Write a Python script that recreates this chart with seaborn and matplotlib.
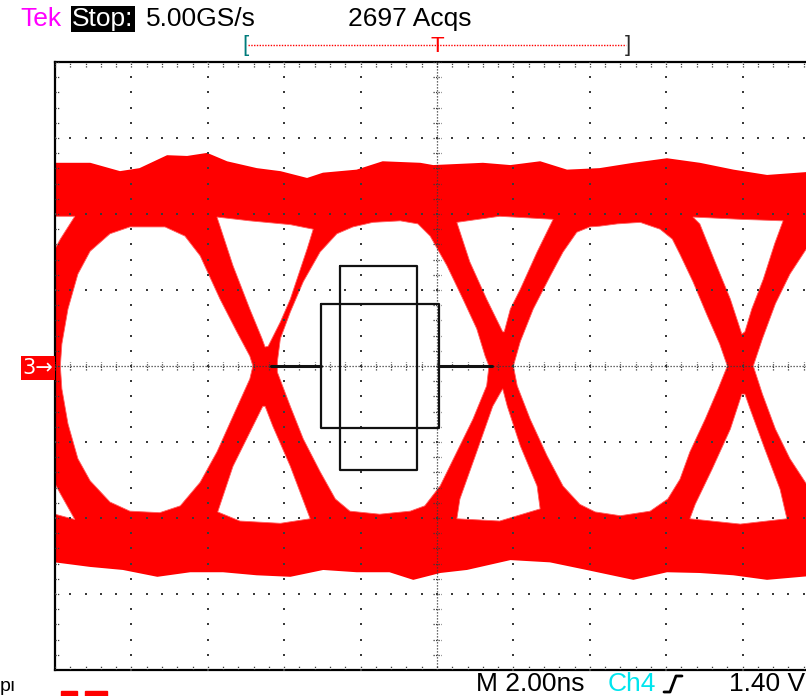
import numpy as np
import pandas as pd
import matplotlib
matplotlib.use("Agg")
import matplotlib.pyplot as plt
import seaborn as sns
from matplotlib.transforms import Affine2D
from matplotlib.lines import Line2D
from matplotlib.patches import Rectangle

sns.set_theme(style="white")
plt.rcParams['font.family'] = ['Liberation Sans', 'DejaVu Sans']

# ---------------- data (screen divisions; x: 2 ns/div, y: div) ----------------
top_env_x = [0, 0.46, 0.85, 1.11, 1.47, 1.73, 1.99, 2.25, 2.64, 2.95, 3.30, 3.51, 3.95, 4.29,
             4.78, 4.95, 5.60, 5.96, 6.35, 6.70, 7.13, 7.57, 8.01, 8.44, 8.88, 9.32, 10.0]
top_env_y = [2.66, 2.66, 2.55, 2.59, 2.76, 2.75, 2.79, 2.68, 2.59, 2.55, 2.46, 2.53, 2.57, 2.68,
             2.66, 2.63, 2.66, 2.63, 2.68, 2.57, 2.59, 2.66, 2.72, 2.66, 2.57, 2.50, 2.55]
bot_env_x = [0, 0.46, 0.89, 1.34, 1.77, 2.20, 2.64, 3.08, 3.51, 3.95, 4.38, 4.69, 5.04, 5.39,
             5.96, 6.48, 6.96, 7.57, 8.01, 8.44, 8.88, 9.32, 10.0]
bot_env_y = [-2.57, -2.63, -2.67, -2.76, -2.70, -2.70, -2.74, -2.76, -2.67, -2.70, -2.70, -2.80,
             -2.71, -2.67, -2.54, -2.57, -2.67, -2.80, -2.70, -2.71, -2.74, -2.80, -2.74]

# eye openings (white)
left_eye_x = [2.59, 2.55, 2.38, 2.16, 1.90, 1.70, 1.44, 0.98, 0.72, 0.46, 0.30, 0.17, 0.09, 0.07,
              0.09, 0.17, 0.30, 0.46, 0.72, 0.98, 1.37, 1.64, 1.90, 2.12, 2.33, 2.55]
left_eye_y = [0, 0.13, 0.45, 0.88, 1.45, 1.71, 1.83, 1.83, 1.74, 1.51, 1.21, 0.75, 0.29, 0,
              -0.30, -0.76, -1.22, -1.51, -1.79, -1.91, -1.93, -1.84, -1.53, -1.13, -0.66, -0.17]
center_eye_x = [3.90, 3.69, 3.47, 3.25, 3.08, 2.95, 2.91, 2.91, 3.08, 3.25, 3.47, 3.67, 3.86, 4.25,
                4.65, 4.84, 5.04, 5.26, 5.47, 5.65, 5.68, 5.63, 5.52, 5.34, 5.13, 4.91, 4.75, 4.52, 4.16]
center_eye_y = [1.83, 1.74, 1.50, 1.11, 0.71, 0.36, 0.05, -0.08, -0.53, -0.96, -1.39, -1.75, -1.91, -1.95,
                -1.91, -1.84, -1.58, -1.13, -0.70, -0.26, 0, 0.13, 0.49, 0.88, 1.32, 1.71, 1.87, 1.91, 1.89]
right_eye_x = [7.00, 6.83, 6.65, 6.48, 6.26, 6.09, 6.00, 6.05, 6.22, 6.44, 6.65, 6.87, 7.07, 7.40,
               7.79, 8.02, 8.18, 8.31, 8.51, 8.68, 8.80, 8.70, 8.53, 8.35, 8.18, 8.08, 7.92, 7.66, 7.36, 7.13]
right_eye_y = [1.83, 1.76, 1.50, 1.18, 0.75, 0.32, 0, -0.26, -0.70, -1.18, -1.58, -1.82, -1.92, -1.97,
               -1.91, -1.75, -1.49, -1.13, -0.70, -0.30, 0, 0.29, 0.68, 1.11, 1.47, 1.67, 1.80, 1.89, 1.87, 1.84]
far_eye_x = [9.14, 9.26, 9.43, 9.62, 9.88, 10.2, 10.2, 9.88, 9.62, 9.43, 9.26]
far_eye_y = [0, 0.36, 0.82, 1.21, 1.61, 1.67, -1.68, -1.62, -1.22, -0.83, -0.37]

# triangles above / below each crossing (white)
c1_up_x = [2.75, 2.71, 2.55, 2.33, 2.16, 2.12, 2.55, 3.08, 3.38, 3.30, 3.08, 2.95, 2.79]
c1_up_y = [0.25, 0.36, 0.75, 1.32, 1.84, 1.96, 1.91, 1.86, 1.80, 1.54, 0.88, 0.58, 0.26]
c1_dn_x = [2.72, 2.33, 2.13, 2.42, 2.95, 3.34, 3.08, 2.85, 2.75]
c1_dn_y = [-0.53, -1.32, -1.92, -2.04, -2.07, -2.01, -1.32, -0.79, -0.53]
c2_up_x = [5.86, 5.65, 5.43, 5.26, 5.82, 6.52, 6.31, 6.09, 5.96, 5.88]
c2_up_y = [0.45, 0.88, 1.37, 1.89, 1.97, 1.93, 1.50, 1.01, 0.75, 0.45]
c2_dn_x = [5.86, 5.73, 5.52, 5.30, 5.26, 5.82, 6.35, 6.31, 6.09, 5.92]
c2_dn_y = [-0.30, -0.53, -1.13, -1.75, -2.01, -2.04, -1.88, -1.58, -1.05, -0.53]
c3_up_x = [8.99, 8.84, 8.64, 8.44, 8.35, 8.97, 9.53, 9.42, 9.27, 9.12, 9.03]
c3_up_y = [0.42, 0.88, 1.37, 1.87, 1.96, 1.93, 1.91, 1.61, 1.14, 0.75, 0.45]
c3_dn_x = [8.99, 8.84, 8.60, 8.38, 8.31, 8.97, 9.58, 9.49, 9.29, 9.10, 9.03]
c3_dn_y = [-0.37, -0.83, -1.36, -1.82, -2.01, -2.08, -2.01, -1.62, -1.09, -0.57, -0.37]
c0_up_x = [0.0, 0.26, 0.07, 0.0]
c0_up_y = [1.97, 1.97, 1.67, 1.54]
c0_dn_x = [0.0, 0.26, 0.07, 0.0]
c0_dn_y = [-1.95, -2.02, -1.68, -1.55]

# mask (black outline)
mask_tall_x = [3.73, 4.74, 4.74, 3.73, 3.73]
mask_tall_y = [1.32, 1.32, -1.37, -1.37, 1.32]
mask_wide_x = [3.48, 5.03, 5.03, 3.48, 3.48]
mask_wide_y = [0.82, 0.82, -0.82, -0.82, 0.82]
mask_left_x = [2.83, 3.48]
mask_right_x = [5.03, 5.72]

# ---------------- figure ----------------
W, H = 806, 696
fig = plt.figure(figsize=(W / 100, H / 100), dpi=100)
fig.patch.set_facecolor("white")
pix = Affine2D().scale(1 / W, -1 / H).translate(0, 1) + fig.transFigure

ax = fig.add_axes([55 / W, (H - 670) / H, 764 / W, 608 / H])
ax.set_xlim(0, 10)
ax.set_ylim(-4, 4)
ax.set_facecolor("white")

RED = "#FF0000"
# red band envelope
env_x = top_env_x + bot_env_x[::-1]
env_y = top_env_y + bot_env_y[::-1]
ax.fill(env_x, env_y, color=RED, lw=0, zorder=1)
env_df = pd.DataFrame({"x": top_env_x, "y": top_env_y})
sns.lineplot(data=env_df, x="x", y="y", color=RED, lw=1.5, ax=ax, zorder=1, sort=False)
env_df2 = pd.DataFrame({"x": bot_env_x, "y": bot_env_y})
sns.lineplot(data=env_df2, x="x", y="y", color=RED, lw=1.5, ax=ax, zorder=1, sort=False)

holes = [(left_eye_x, left_eye_y), (center_eye_x, center_eye_y), (right_eye_x, right_eye_y),
         (far_eye_x, far_eye_y), (c1_up_x, c1_up_y), (c1_dn_x, c1_dn_y), (c2_up_x, c2_up_y),
         (c2_dn_x, c2_dn_y), (c3_up_x, c3_up_y), (c3_dn_x, c3_dn_y), (c0_up_x, c0_up_y),
         (c0_dn_x, c0_dn_y)]
for hx, hy in holes:
    ax.fill(hx, hy, facecolor="white", edgecolor="#FF6060", lw=0.6, zorder=2)

# ---------------- graticule ----------------
GC = "#3a3a3a"
minor_x = np.round(np.arange(0, 10.001, 0.2), 3)
minor_y = np.round(np.arange(-4, 4.001, 0.2), 3)
for mx in [1, 2, 3, 4, 6, 7, 8, 9]:
    ax.scatter(np.full(minor_y.size, mx), minor_y, s=1.6, marker="s", color=GC, lw=0, zorder=4)
for my in [-3, -2, -1, 1, 2, 3]:
    ax.scatter(minor_x, np.full(minor_x.size, my), s=1.6, marker="s", color=GC, lw=0, zorder=4)
# centre lines with ticks
ax.axhline(0, color=GC, lw=0.9, ls=(0, (1, 1.4)), zorder=4)
ax.axvline(5, color=GC, lw=0.9, ls=(0, (1, 1.4)), zorder=4)
ax.vlines(minor_x, -0.05, 0.05, color=GC, lw=0.9, ls=(0, (1, 1)), zorder=4)
ax.hlines(minor_y, 4.95, 5.05, color=GC, lw=0.9, ls=(0, (1, 1)), zorder=4)
# border ticks
ax.vlines(minor_x, 3.93, 4.0, color=GC, lw=0.9, ls=(0, (1, 1)), zorder=4)
ax.vlines(minor_x, -4.0, -3.93, color=GC, lw=0.9, ls=(0, (1, 1)), zorder=4)
ax.hlines(minor_y, 0, 0.07, color=GC, lw=0.9, ls=(0, (1, 1)), zorder=4)

# ---------------- mask ----------------
MC = "#111111"
ax.plot(mask_tall_x, mask_tall_y, color=MC, lw=1.6, zorder=5)
ax.plot(mask_wide_x, mask_wide_y, color=MC, lw=1.6, zorder=5)
ax.plot(mask_left_x, [0, 0], color=MC, lw=2.2, zorder=5)
ax.plot(mask_right_x, [0, 0], color=MC, lw=2.2, zorder=5)

for side in ["left", "top", "bottom"]:
    ax.spines[side].set_visible(True)
    ax.spines[side].set_color("black")
    ax.spines[side].set_linewidth(1.6)
ax.spines["right"].set_visible(False)
ax.set_xticks([])
ax.set_yticks([])
ax.set_xlabel("")
ax.set_ylabel("")

# ---------------- header / footer text ----------------
FS = 19
fig.text(20, 19, "Tek", transform=pix, color="#FF00FF", fontsize=FS, va="center", ha="left")
fig.text(72, 19, "Stop:", transform=pix, color="white", fontsize=FS, va="center", ha="left",
         bbox=dict(facecolor="black", edgecolor="none", pad=1.0))
fig.text(146, 19, "5.00GS/s", transform=pix, color="black", fontsize=FS, va="center", ha="left")
fig.text(348, 19, "2697 Acqs", transform=pix, color="black", fontsize=FS, va="center", ha="left")

# trigger position bar
fig.add_artist(Line2D([248, 626], [45, 45], transform=pix, color=RED, lw=1.0, ls=(0, (1, 1))))
fig.text(245, 45, "[", transform=pix, color="#007b7b", fontsize=16, va="center", ha="center")
fig.text(628, 45, "]", transform=pix, color="#2a2a2a", fontsize=16, va="center", ha="center")
fig.text(437, 46, "T", transform=pix, color=RED, fontsize=16, va="center", ha="center")

# channel 3 ground marker
fig.text(38, 368, "3\u2192", transform=pix, color="white", fontsize=15, va="center", ha="center",
         family=["DejaVu Sans"], bbox=dict(facecolor=RED, edgecolor="none", pad=1.2))

# footer
fig.text(476, 684, "M 2.00ns", transform=pix, color="black", fontsize=FS, va="center", ha="left")
fig.text(608, 684, "Ch4", transform=pix, color="#00E5EE", fontsize=FS, va="center", ha="left")
fig.add_artist(Line2D([664, 670, 676, 682], [692, 692, 676, 676], transform=pix, color="black", lw=2))
fig.text(805, 684, "1.40 V", transform=pix, color="black", fontsize=FS, va="center", ha="right")
fig.text(0, 695, "pı", transform=pix, color="black", fontsize=14, va="bottom", ha="left")
fig.add_artist(Rectangle((61, 691), 16, 6, transform=pix, color=RED))
fig.add_artist(Rectangle((85, 691), 22, 6, transform=pix, color=RED))

fig.savefig("out.png", dpi=100, facecolor="white")
